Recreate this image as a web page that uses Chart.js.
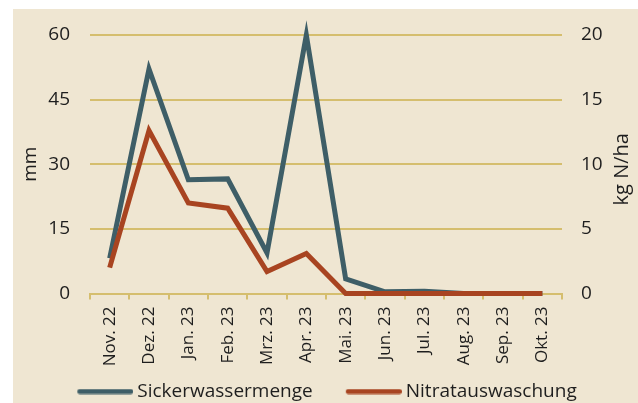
<!DOCTYPE html>
<html>
<head>
<meta charset="utf-8">
<script src="https://cdn.jsdelivr.net/npm/chart.js@4/dist/chart.umd.min.js"></script>
<style>
  html, body { margin: 0; padding: 0; background: #ffffff; overflow: hidden; width: 638px; height: 403px; }
  #wrap { position: absolute; left: 13px; top: 9px; width: 625px; height: 410px; background: #efe6d2; overflow: hidden; }
  canvas { display: block; }
</style>
</head>
<body>
<div id="wrap"><canvas id="c" width="625" height="402"></canvas></div>
<script>
const categories = ["Nov. 22","Dez. 22","Jan. 23","Feb. 23","Mrz. 23","Apr. 23","Mai. 23","Jun. 23","Jul. 23","Aug. 23","Sep. 23","Okt. 23"];
const sickerwasser = [8.2, 52.1, 26.4, 26.6, 9.4, 60, 3.4, 0.4, 0.5, 0, 0, 0];
const nitrat = [2.0, 12.6, 7.0, 6.6, 1.7, 3.1, 0, 0, 0, 0, 0, 0];
const mmTicks = [0, 15, 30, 45, 60];
const kgTicks = [0, 5, 10, 15, 20];
const rightTitle = 'kg N/ha';

const gold = '#d5be6e';
const txt = '#1e1e1e';
const blue = '#3e5e67';
const red = '#a84421';
const fam = '"Open Sans", "Noto Sans", sans-serif';

// legend swatch: 82px wide image, visible 56px line in its right part
function legendLine(color) {
  const c = document.createElement('canvas');
  c.width = 82; c.height = 6;
  const g = c.getContext('2d');
  g.strokeStyle = color; g.lineWidth = 5; g.lineCap = 'round';
  g.beginPath(); g.moveTo(28.5, 3); g.lineTo(79.5, 3); g.stroke();
  return c;
}

const rightTitlePlugin = {
  id: 'rightTitle',
  afterDraw(chart) {
    const s = chart.scales.y2;
    const ctx = chart.ctx;
    ctx.save();
    ctx.font = '20px ' + fam;
    ctx.fillStyle = txt;
    ctx.textAlign = 'center';
    ctx.textBaseline = 'middle';
    ctx.translate(chart.width - 16, (s.top + s.bottom) / 2 + 5);
    ctx.rotate(-Math.PI / 2);
    ctx.fillText(rightTitle, 0, 0);
    ctx.restore();
  }
};

const noLabelPad = s => { s.paddingTop = 0; s.paddingBottom = 0; };

new Chart(document.getElementById('c'), {
  type: 'line',
  data: {
    labels: categories,
    datasets: [
      { label: 'Sickerwassermenge', data: sickerwasser, yAxisID: 'y',
        borderColor: blue, backgroundColor: blue, borderWidth: 5, pointStyle: legendLine(blue),
        pointRadius: 0, tension: 0, borderJoinStyle: 'miter', borderCapStyle: 'butt', clip: false, order: 1 },
      { label: 'Nitratauswaschung', data: nitrat, yAxisID: 'y2',
        borderColor: red, backgroundColor: red, borderWidth: 5, pointStyle: legendLine(red),
        pointRadius: 0, tension: 0, borderJoinStyle: 'miter', borderCapStyle: 'butt', clip: false, order: 0 }
    ]
  },
  plugins: [rightTitlePlugin],
  options: {
    responsive: false,
    animation: false,
    devicePixelRatio: 1,
    layout: { padding: { top: 26, left: 0, right: 17.5, bottom: 0 } },
    plugins: {
      tooltip: { enabled: false },
      legend: {
        position: 'bottom',
        labels: {
          usePointStyle: true, pointStyleWidth: 71, boxHeight: 6, padding: 12.5,
          sort: (a, b) => a.datasetIndex - b.datasetIndex,
          color: txt, font: { family: fam, size: 19 }
        }
      }
    },
    scales: {
      x: {
        offset: true,
        grid: { offset: true, drawOnChartArea: false, drawTicks: true, tickLength: 6, color: gold, lineWidth: 2 },
        border: { display: true, color: gold, width: 2 },
        ticks: { autoSkip: false, maxRotation: 90, minRotation: 90, padding: 7, color: txt, font: { family: fam, size: 17 } },
        afterFit: s => { s.height = 76; }
      },
      y: {
        position: 'left', min: 0, max: 60,
        afterBuildTicks: s => { s.ticks = mmTicks.map(v => ({ value: v })); },
        grid: { color: gold, lineWidth: 2, drawTicks: false },
        border: { display: false },
        ticks: { padding: 20, color: txt, font: { family: fam, size: 19 } },
        title: { display: true, text: 'mm', color: txt, font: { family: fam, size: 19, lineHeight: 1.2 }, padding: { top: 6, bottom: 0 } },
        afterFit: s => { s.width = 77; noLabelPad(s); }
      },
      y2: {
        position: 'right', min: 0, max: 20,
        afterBuildTicks: s => { s.ticks = kgTicks.map(v => ({ value: v })); },
        grid: { display: false, drawTicks: false },
        border: { display: false },
        ticks: { padding: 19, color: txt, font: { family: fam, size: 19 } },
        title: { display: false },
        afterFit: s => { s.width = 58.5; noLabelPad(s); }
      }
    }
  }
});
</script>
</body>
</html>
